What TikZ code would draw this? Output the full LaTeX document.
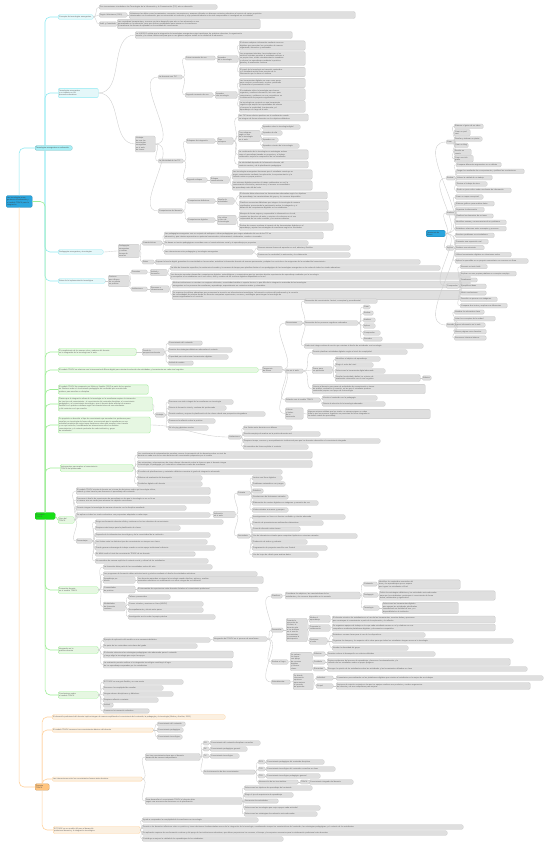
\documentclass[tikz,border=0pt]{standalone}
\usepackage{fontspec}
\setmainfont{Liberation Sans}
\usetikzlibrary{positioning}
\definecolor{Raiz}{HTML}{2AA5DE}
\definecolor{Caja}{HTML}{DFDFDF}
\definecolor{Borde}{HTML}{C6C6C6}
\definecolor{Linea}{HTML}{CDCDCD}
\definecolor{Cian}{HTML}{8FEAF2}
\definecolor{CianVivo}{HTML}{A8EEF5}
\definecolor{CianClaro}{HTML}{E4F7F9}
\definecolor{Verde}{HTML}{9EEE96}
\definecolor{VerdeVivo}{HTML}{16E016}
\definecolor{VerdeClaro}{HTML}{E6F7E2}
\definecolor{Naranja}{HTML}{FFD19C}
\definecolor{NaranjaVivo}{HTML}{FFC47E}
\definecolor{NaranjaClaro}{HTML}{FBF0E1}
\definecolor{Tinta}{HTML}{626262}

\tikzset{
  hoja/.style={draw=Borde, fill=Caja, rounded corners=1.2pt, line width=0.3pt,
    inner xsep=1pt, inner ysep=1.4pt, anchor=west, align=left, text=Tinta,
    font=\fontsize{1.9}{2.35}\selectfont},
  raiz/.style={hoja, draw=Raiz!80!black, fill=Raiz, text=black!75},
  temaC/.style={hoja, draw=Cian, fill=CianClaro},
  temaV/.style={hoja, draw=Verde, fill=VerdeClaro},
  temaN/.style={hoja, draw=Naranja, fill=NaranjaClaro},
  enlace/.style={draw=Linea, line width=0.35pt},
  ramaC/.style={draw=Cian, line width=0.6pt, rounded corners=5pt},
  ramaV/.style={draw=Verde, line width=0.6pt, rounded corners=5pt},
  ramaN/.style={draw=Naranja, line width=0.6pt, rounded corners=5pt},
}

% hijos de un nodo: nombre/y/ancho/texto, todos en la misma x
\newcommand{\hijos}[3]{%
  \foreach \n/\y/\w/\txt in {#3}{%
    \node[hoja, text width=\w pt] (\n) at (#2,\y) {\txt};
    \draw[enlace] (#1.east) to[out=0,in=180] (\n.west);
  }%
}

\begin{document}
\begin{tikzpicture}[x=1pt,y=-1pt]
  \fill[white] (0,0) rectangle (550,848);
  \useasboundingbox (0,0) rectangle (550,848);

  % raiz
  \node[raiz, text width=24pt] (raiz) at (6,201.5)
    {Las tecnologías emergentes en la educación y el modelo TPACK para la integración};

  % ---------- rama cian ----------
  \node[hoja, draw=Cian!80!black, fill=CianVivo, text width=35pt, text=black!70] (cian) at (35,148) {Tecnologías emergentes en educación};
  \draw[ramaC] (raiz.north) |- (cian.west);
  \node[temaC, text width=33pt] (c1) at (58,17) {Concepto de tecnologías emergentes};
  \node[temaC, text width=38pt] (c2) at (58,93) {Tecnologías emergentes\\y su impacto en los\\procesos educativos};
  \node[temaC, text width=43pt] (c3) at (58,252) {Pedagogías emergentes y tecnologías};
  \node[temaC, text width=45pt] (c4) at (58,281) {Retos de la implementación tecnológica};
  \foreach \c in {c1,c2}
    \draw[ramaC] ([xshift=10pt]cian.north west) |- (\c.west);
  \foreach \c in {c3,c4}
    \draw[ramaC] ([xshift=10pt]cian.south west) |- (\c.west);

  \hijos{c1}{99}{
    c1a/7/116/{Son innovaciones vinculadas a las Tecnologías de la Información y la Comunicación (TIC) aún en desarrollo},
    c1b/15/26/{Según Veletsianos (2010)},
    c1c/24/16/{Adell y Castañeda}}
  \hijos{c1b}{129}{
    c1d/15/224/{Veletsianos las define como herramientas, conceptos, innovaciones y avances utilizados en diversos contextos educativos al servicio de varios propósitos\\relacionados con la educación, que se encuentran en evolución y cuyo potencial todavía no ha sido comprendido ni investigado en su totalidad}}
  \hijos{c1c}{117}{
    c1e/24/141/{Las consideran herramientas y recursos en pleno desarrollo que aún no han alcanzado un uso\\generalizado en la educación, pero que ofrecen posibilidades para innovar en la enseñanza\\y transformar las formas de aprender en la sociedad del conocimiento}}

  \hijos{c2}{135}{
    c2b/35/155/{La UNESCO señala que la integración de tecnologías emergentes exige transformar las prácticas docentes, la organización\\escolar y la cultura institucional para que su uso genere mejoras reales en la calidad de la educación},
    v/144/18/{Ventajas\\de usar las\\tecnologías\\emergentes\\en el aula\\de clases}}
  \hijos{v}{158}{
    va/77/22/{La docencia con TIC},
    vb/161/23/{La efectividad de las TIC},
    vc/211/23/{Competencias del docente}}
  \hijos{va}{185}{
    va1/58/28/{Primer momento de uso},
    va2/95/26/{Segundo momento de uso}}
  \hijos{va1}{217}{va1a/59/19/{Aprender\\de la tecnología}}
  \hijos{va1a}{239}{
    va1b/45.5/64/{El alumno adquiere información mediante recursos\\digitales que presentan los contenidos de manera\\organizada, interactiva y multimedia},
    va1c/58.5/64/{Los programas tutoriales, las simulaciones y los\\entornos virtuales permiten al estudiante avanzar a\\su propio ritmo, recibir retroalimentación inmediata\\y reforzar los aprendizajes mediante la práctica\\guiada y la evaluación continua},
    va1d/72/64/{El papel de la tecnología es transmitir contenidos\\y el estudiante actúa como receptor de la\\información que le ofrece el sistema}}
  \hijos{va2}{215}{va2a/95/20/{Aprender\\con tecnología}}
  \hijos{va2a}{239}{
    va2b/83/64/{Las herramientas digitales se usan como apoyo\\para construir conocimiento, resolver problemas\\y desarrollar el pensamiento crítico},
    va2c/94.5/64/{El estudiante utiliza la tecnología para buscar,\\organizar y analizar información, así como para\\comunicarse y colaborar con sus compañeros en\\la elaboración de proyectos significativos},
    va2d/106.5/64/{La tecnología se convierte en una herramienta\\cognitiva que amplía las capacidades del alumno\\y favorece la creatividad, la autonomía y el\\aprendizaje a lo largo de la vida}}
  \hijos{vb}{186}{
    vb1/141/27/{Enfoques de integración},
    vb2/180/19/{Segundo enfoque}}
  \hijos{vb1}{217}{vb1a/141/14/{Tres\\enfoques}}
  \hijos{vb1a}{238}{
    vb1b/117.5/68/{Las TIC tienen efectos positivos en el rendimiento cuando\\se integran de forma coherente con los objetivos didácticos},
    vb1c/136/20/{Tres enfoques\\según el uso\\de la tecnología\\en el aula},
    vb1d/154.5/68/{La combinación de la tecnología con estrategias activas\\como el aprendizaje basado en proyectos y el trabajo\\colaborativo mejora la comprensión de los estudiantes},
    vb1e/164.5/68/{La efectividad depende de la formación docente, del\\contexto escolar y de la planificación pedagógica}}
  \hijos{vb1c}{262}{
    vb1f/127/36/{Aprender sobre la tecnología digital},
    vb1g/133/18/{Aprender de ella},
    vb1h/140/14/{Aprender con},
    vb1i/146/35/{Aprender a través de la tecnología}}
  \hijos{vb2}{210}{vb2a/180/17/{Enfoque\\constructivista}}
  \hijos{vb2a}{232}{
    vb2b/174.5/78/{Las tecnologías emergentes favorecen que el estudiante construya su\\propio conocimiento mediante la exploración, la experimentación y la\\reflexión sobre su propia práctica},
    vb2c/185.5/78/{Los entornos digitales permiten el trabajo colaborativo en red, la\\comunicación sincrónica y asincrónica y el acceso a comunidades\\de aprendizaje más allá del aula}}
  \hijos{vc}{187}{
    vc1/201/26/{Competencias didácticas},
    vc2/220/26/{Competencias digitales}}
  \hijos{vc1}{217}{vc1a/201/15/{Diseño de\\actividades}}
  \hijos{vc1a}{239}{
    vc1b/195.5/86/{El docente debe seleccionar las herramientas adecuadas según los objetivos\\de aprendizaje, las características del grupo y los recursos disponibles},
    vc1c/205.5/87/{Planificar secuencias didácticas que integren la tecnología de manera\\significativa, promoviendo la participación activa, la indagación y el\\desarrollo de competencias digitales en los estudiantes}}
  \hijos{vc2}{217}{vc2a/220/17/{Uso crítico\\y ético de\\la tecnología}}
  \hijos{vc2a}{239}{
    vc2b/216.5/87/{Manejar de forma segura y responsable la información en la red,\\respetar los derechos de autor y orientar a los alumnos en el uso\\responsable de las redes sociales y los recursos abiertos},
    vc2c/227/92/{Evaluar de manera continua el impacto de las herramientas digitales en el\\aprendizaje y ajustar las estrategias de enseñanza según los resultados}}

  \hijos{c3}{118}{c3a/251/19/{Pedagogías\\emergentes\\y nuevas\\formas de\\enseñar}}
  \hijos{c3a}{142}{
    c3b/243/18/{Características},
    c3c/262/10/{Retos}}
  \hijos{c3b}{164}{
    c3d/235.5/157/{Las pedagogías emergentes son un conjunto de enfoques e ideas pedagógicas que surgen alrededor del uso de las TIC en\\educación y que intentan aprovechar su potencial comunicativo, informacional, colaborativo, creativo e innovador},
    c3e/243/142/{Se basan en teorías pedagógicas conocidas como el constructivismo social y el aprendizaje por proyectos},
    c3f/252/87/{Las interacciones entre pedagogías y tecnologías emergentes}}
  \hijos{c3f}{257}{
    c3g/248/91/{Generan nuevas formas de aprender en red, abiertas y flexibles},
    c3h/255/91/{Promueven la creatividad, la autonomía y la colaboración}}
  \hijos{c3c}{155}{
    c3i/262/263/{Superar la brecha digital, garantizar la conectividad en las escuelas, actualizar la formación docente de manera permanente y adaptar los currículos a las exigencias de la sociedad del conocimiento}}

  \hijos{c4}{108}{c4a/281/19/{Factores\\que influyen\\en su puesta\\en práctica}}
  \hijos{c4a}{131}{
    c4b/272/14/{Docentes},
    c4c/289/14/{Instituciones}}
  \hijos{c4b}{150}{c4d/272.5/15/{Actitud y\\formación}}
  \hijos{c4d}{170}{
    c4e/268/268/{La falta de formación específica, la resistencia al cambio y la escasez de tiempo para planificar limitan el uso pedagógico de las tecnologías emergentes en las aulas de todos los niveles educativos},
    c4f/276/298/{Los docentes necesitan desarrollar competencias digitales, metodológicas y comunicativas que les permitan diseñar experiencias de aprendizaje mediadas por la tecnología\\y acompañar a los estudiantes en el uso crítico, ético y creativo de los recursos digitales disponibles en la red}}
  \hijos{c4c}{150}{c4g/289/17/{Recursos e\\infraestructura}}
  \hijos{c4g}{172}{
    c4h/284.5/296/{Muchas instituciones no cuentan con equipos suficientes, conectividad estable ni soporte técnico, lo que dificulta la integración sostenida de las tecnologías\\emergentes en los procesos de enseñanza y aprendizaje, especialmente en contextos rurales y vulnerables},
    c4i/295/286/{Se requiere de políticas educativas que promuevan la inversión en infraestructura tecnológica, la formación continua del profesorado y la creación\\de comunidades de práctica donde los docentes compartan experiencias, recursos y estrategias para integrar la tecnología de\\manera significativa en el currículo}}

  % ---------- tema flotante: taxonomia de Bloom ----------
  \node[raiz, text width=17pt] (bloom) at (426,233.5) {Taxonomía de Bloom};
  \hijos{bloom}{446}{
    bq1/142/6/{Crear},
    bq2/178/7/{Evaluar},
    bq3/213/7/{Analizar},
    bq4/248/6/{Aplicar},
    bq5/286/11/{Comprender},
    bq6/325/8/{Recordar}}
  \hijos{bq1}{454}{
    bq1a/126.3/27/{Elaborar el guion de un video},
    bq1b/132.7/14/{Crear un podcast},
    bq1c/139/26/{Diseñar y elaborar un póster},
    bq1d/145.3/12/{Crear un blog},
    bq1e/152.3/15/{Escribir un cuento},
    bq1f/158.7/17/{Crear una infografía}}
  \hijos{bq2}{456}{
    bq2a/164.7/43/{Comparar diferentes argumentos en un debate},
    bq2b/171.3/66/{Juzgar los resultados de un experimento y justificar las conclusiones},
    bq2c/177.7/34/{Valorar la calidad de un trabajo},
    bq2d/184/29/{Revisar el trabajo de otros},
    bq2e/190.3/53/{Emitir un juicio crítico sobre una fuente de información}}
  \hijos{bq3}{455}{
    bq3a/197/26/{Crear un mapa conceptual},
    bq3b/203.7/37/{Elaborar gráficos para analizar datos},
    bq3c/209.7/27/{Organizar la información},
    bq3d/216/36/{Clasificar los elementos de un tema},
    bq3e/222.3/49/{Identificar causas y consecuencias de un problema},
    bq3f/228.7/49/{Establecer relaciones entre conceptos y procesos}}
  \hijos{bq4}{455}{
    bq4a/235.3/37/{Resolver problemas con simuladores},
    bq4b/241.7/31/{Presentar una exposición oral},
    bq4c/247.7/27/{Realizar una entrevista},
    bq4d/254.7/54/{Utilizar herramientas digitales en situaciones reales},
    bq4e/261/71/{Aplicar lo aprendido en un proyecto comunitario con recursos en línea}}
  \hijos{bq5}{460}{
    bq5a/266.7/25/{Resumir un texto leído},
    bq5b/273.7/54/{Explicar con sus propias palabras un concepto complejo},
    bq5c/280/15/{Parafrasear},
    bq5d/286.3/24/{Ejemplificar ideas},
    bq5e/293/24/{Inferir conclusiones},
    bq5f/299.3/35/{Describir un proceso con imágenes},
    bq5g/305.7/45/{Comparar dos textos y explicar sus diferencias}}
  \hijos{bq6}{454}{
    bq6a/312/28/{Nombrar los elementos clave},
    bq6b/318.7/39/{Listar los conceptos de la unidad},
    bq6c/325/29/{Buscar información en la web},
    bq6d/331.7/30/{Marcar páginas como favoritos},
    bq6e/338/30/{Reconocer términos básicos}}

  % ---------- rama verde ----------
  \node[hoja, draw=VerdeVivo!80!black, fill=VerdeVivo, text width=18pt, text=black!70] (verde) at (35,516) {El modelo\\TPACK};
  \draw[ramaV] (raiz.east) -| (verde.north);
  \node[temaV, text width=76pt] (g1) at (58,352) {El cumplimiento de los nuevos roles y saberes del docente\\en la integración de la tecnología en el aula};
  \node[temaV, text width=198pt] (g2) at (58,370) {El modelo TPACK se relaciona con la taxonomía de Bloom digital para orientar la selección de actividades y herramientas en cada nivel cognitivo};
  \node[temaV, text width=88pt] (g3a) at (58,389.5) {El modelo TPACK fue propuesto por Mishra y Koehler (2006) a partir de los aportes\\de Shulman sobre el conocimiento pedagógico del contenido que necesita todo\\profesor para enseñar su disciplina};
  \node[temaV, text width=92pt] (g3b) at (58,404) {Plantea que la integración eficaz de la tecnología en la enseñanza requiere la interacción\\de tres tipos de conocimiento: el conocimiento del contenido disciplinar, el conocimiento\\pedagógico y el conocimiento tecnológico, que el docente debe articular de manera\\flexible en su práctica cotidiana según las características de sus estudiantes\\y del contexto en el que enseña};
  \node[temaV, text width=90pt] (g3c) at (58,425) {Su propósito es describir el tipo de conocimiento que necesitan los profesores para\\enseñar con tecnología de forma eficaz, reconociendo que la enseñanza es una\\actividad compleja que exige tomar decisiones sobre qué enseñar, cómo hacerlo\\y con qué recursos, considerando las interacciones entre los distintos\\conocimientos y el contexto particular de cada institución y grupo\\de estudiantes};
  \node[temaV, text width=71pt] (g4) at (60,468) {Instrumentos para evaluar el conocimiento\\TPACK del profesorado};
  \node[temaV, text width=14pt] (g5) at (58,520) {Usos del TPACK};
  \node[temaV, text width=38pt] (g6) at (58,590) {Formación docente\\en el modelo TPACK};
  \node[temaV, text width=38pt] (g7) at (58,650) {Integración en la\\práctica docente};
  \node[temaV, text width=38pt] (g8) at (58,695) {Conclusiones sobre\\el modelo TPACK};
  \foreach \g in {g1,g2,g3a,g3b,g3c,g4}
    \draw[ramaV] (verde.north) |- (\g.west);
  \draw[ramaV] (verde.east) -- (g5.west);
  \foreach \g in {g6,g7,g8}
    \draw[ramaV] (verde.south) |- (\g.west);

  \hijos{g1}{142}{g1a/352/20/{Desde la\\perspectiva docente}}
  \hijos{g1a}{168}{
    g1b/343/32/{Conocimiento del contenido},
    g1c/350/62/{Dominio de estrategias didácticas adecuadas al contexto},
    g1d/357/58/{Capacidad para seleccionar herramientas digitales},
    g1e/363/23/{Actitud de cambio}}
  \hijos{g2}{262}{t/369.5/18/{Taxonomía\\de Bloom}}
  \hijos{t}{285}{
    t1/323/15/{Dimensiones},
    t2/371/16/{Uso en el aula},
    t3/400/33/{Relación con el modelo TPACK},
    t4/413.5/16/{Críticas\\y límites\\de la\\taxonomía}}
  \hijos{t1}{304}{
    t1a/301/71/{Dimensión del conocimiento: factual, conceptual y procedimental},
    t1b/323/52/{Dimensión de los procesos cognitivos ordenados},
    t1c/346/117/{Cada nivel integra verbos de acción que orientan el diseño de actividades con tecnología}}
  \hijos{t1b}{363}{
    t1d/307/5/{Crear},
    t1e/313/8/{Evaluar},
    t1f/320/10/{Analizar},
    t1g/326/10/{Aplicar},
    t1h/333/15/{Comprender},
    t1i/339/17/{Recordar}}
  \hijos{t2}{312}{
    t2a/352/93/{Permite planificar actividades digitales según el nivel de complejidad},
    t2b/370/18/{Pasos para\\su aplicación},
    t2c/389/111/{Orienta al docente para pasar de actividades de memorización a tareas\\de análisis, evaluación y creación, en las que el estudiante produce\\contenidos propios con apoyo de la tecnología}}
  \hijos{t2b}{335}{
    t2d/359/43/{Identificar el objetivo de aprendizaje},
    t2e/365/36/{Elegir el verbo del nivel},
    t2f/371/48/{Seleccionar la herramienta digital adecuada},
    t2g/378/83/{Diseñar la actividad y definir los criterios de\\evaluación coherentes con el nivel cognitivo}}
  \hijos{t2g}{422}{t2h/378/7/{Rúbrica}}
  \hijos{t3}{322}{
    t3a/398/53/{Vincula el contenido con la pedagogía},
    t3b/404/61/{Orienta la elección de la tecnología adecuada}}
  \hijos{t4}{307}{
    t4a/414/121/{Algunos autores señalan que los niveles no siempre siguen un orden\\lineal y que los procesos cognitivos se presentan de forma integrada en\\las tareas reales de aprendizaje}}

  \hijos{g3b}{155}{g3d/415/8/{Ventajas}}
  \hijos{g3d}{168}{
    g3f/402/63/{Favorece una visión integral de la enseñanza con tecnología},
    g3g/408/56/{Orienta la formación inicial y continua del profesorado},
    g3h/414/95/{Permite analizar y mejorar la planificación de las clases desde una perspectiva integradora},
    g3i/421/45/{Promueve la reflexión sobre la práctica},
    g3j/428/38/{Se adapta a distintos niveles}}
  \hijos{g3c}{228}{g3e/437/11/{Limitaciones}}
  \hijos{g3e}{243}{
    g3k/428/47/{Sus límites entre dominios son difusos},
    g3l/434/75/{Resulta complejo de evaluar en la práctica docente real},
    g3m/441/135/{Requiere tiempo, recursos y acompañamiento institucional para que los docentes desarrollen el conocimiento integrado},
    g3n/447/63/{No considera de forma explícita el contexto}}

  \hijos{g4}{137}{
    g4a/455/173/{Los cuestionarios de autoevaluación permiten conocer la percepción de los docentes sobre su nivel de\\dominio en cada uno de los siete dominios del conocimiento propuestos por el modelo},
    g4b/464/173/{Las entrevistas y observaciones de clase ofrecen información sobre la forma en que el docente integra\\la tecnología, la pedagogía y el contenido en situaciones reales de enseñanza},
    g4c/472/143/{El análisis de planificaciones y materiales didácticos muestra el grado de integración alcanzado},
    g4d/478/63/{Rúbricas de evaluación del desempeño},
    g4e/484/63/{Portafolios digitales del docente}}

  \hijos{g5}{76}{
    g5a/491/132/{El modelo TPACK orienta al docente en la toma de decisiones sobre qué tecnología utilizar,\\cuándo y cómo hacerlo para favorecer el aprendizaje del contenido},
    g5b/500/132/{Favorece el diseño de experiencias de aprendizaje en las que la tecnología no es un fin en\\sí misma, sino un medio para alcanzar los objetivos curriculares},
    g5c/508/108/{Permite integrar la tecnología de manera coherente con la disciplina enseñada},
    g5d/515/132/{Se aplica en todos los niveles educativos con propuestas adaptadas a cada etapa},
    ds/541/14/{Desventajas}}
  \hijos{g5d}{213}{ap/514.5/20/{Aplicación\\en el aula}}
  \hijos{ap}{237}{
    ap1/493/11/{Primaria},
    ap2/536/11/{Secundaria}}
  \hijos{ap1}{252}{
    ap1a/478/28/{Lectura con libros digitales},
    ap1b/484/31/{Problemas matemáticos con juegos},
    ap1c/491/9/{Robótica},
    ap1d/497/34/{Simulaciones de fenómenos naturales},
    ap1e/503/64/{Elaboración de cuentos digitales con imágenes y narración de voz},
    ap1f/510/34/{Visitas virtuales a museos y parques}}
  \hijos{ap2}{252}{
    ap2a/517/91/{Investigaciones en línea con fuentes confiables y citación adecuada},
    ap2b/523/69/{Creación de presentaciones multimedia colaborativas},
    ap2c/529/46/{Foros de discusión sobre temas},
    ap2d/536/103/{Uso de laboratorios virtuales para comprobar hipótesis en ciencias naturales},
    ap2e/542/53/{Producción de videos y podcasts},
    ap2f/548/73/{Programación de proyectos sencillos con Scratch},
    ap2g/555/64/{Uso de hojas de cálculo para analizar datos}}
  \hijos{ds}{95}{
    ds1/522/126/{Exige una formación docente sólida y continua en los tres dominios de conocimiento},
    ds2/528/83/{Requiere más tiempo para la planificación de clases},
    ds3/535/113/{Depende de la infraestructura tecnológica y de la conectividad de la institución},
    ds4/542/110/{Los límites entre los distintos tipos de conocimiento no siempre son claros},
    ds5/548/118/{Puede generar sobrecarga de trabajo cuando no existe apoyo institucional suficiente},
    ds6/554/98/{Es difícil medir el nivel de conocimiento TPACK de un docente},
    ds7/561/111/{No considera de manera explícita el contexto social y cultural de los estudiantes}}

  \hijos{g6}{103}{
    g6a/567/107/{La formación debe partir de las necesidades reales del aula},
    g6b/574/152/{Los programas de formación deben articular teoría y práctica mediante el diseño de actividades auténticas},
    g6c/580/30/{Aprendizaje por\\diseño},
    g6d/589.5/30/{Comunidades\\de práctica},
    g6e/606.5/20/{Modalidades\\de formación\\continua}}
  \hijos{g6c}{137}{
    g6f/580/124/{Los docentes aprenden a integrar la tecnología cuando diseñan, aplican y evalúan\\materiales educativos en colaboración con otros colegas de su institución}}
  \hijos{g6d}{137}{
    g6g/589.5/119/{El intercambio de experiencias entre docentes fortalece el conocimiento profesional}}
  \hijos{g6e}{128}{
    g6h/597/40/{Talleres presenciales},
    g6i/604/73/{Cursos virtuales y masivos en línea (MOOC)},
    g6j/610/73/{Acompañamiento y tutoría entre pares},
    g6k/617/85/{Investigación acción sobre la propia práctica}}

  \hijos{g7}{103}{
    g7a/640/105/{Ejemplo de aplicación del modelo en una secuencia didáctica},
    g7b/646/92/{Se parte de los contenidos curriculares del grado},
    g7c/654.5/128/{El docente selecciona las estrategias pedagógicas más adecuadas para el contenido\\y luego elige la tecnología que mejor las apoya},
    g7d/664.5/127/{La evaluación permite verificar si la integración tecnológica contribuyó al logro\\de los aprendizajes esperados por los estudiantes}}
  \hijos{g7a}{213}{in/639/52/{Integración del TPACK en el proceso de enseñanza}}
  \hijos{in}{271}{
    p1/596/9/{Planificar},
    p2/630/10/{Desarrollar},
    p3/662/15/{Evaluar el logro},
    p4/682/17/{Retroalimentar}}
  \hijos{p1}{285}{
    p1a/595.5/73/{Considerar los objetivos, las características de los\\estudiantes y los recursos disponibles en la escuela}}
  \hijos{p1a}{363}{
    p1b/584/12/{Contenido},
    p1c/595/13/{Pedagogía},
    p1d/608/14/{Tecnología}}
  \hijos{p1b}{378}{
    p1e/584.5/80/{Identificar los contenidos esenciales del\\área y los aprendizajes que se espera\\que logren los estudiantes al final}}
  \hijos{p1c}{379}{
    p1f/595.5/114/{Definir las estrategias didácticas y las actividades más adecuadas\\para que los estudiantes construyan el conocimiento de forma\\activa, colaborativa y significativa}}
  \hijos{p1d}{382}{
    p1g/608/74/{Seleccionar las herramientas digitales\\que apoyan las actividades planificadas\\considerando su facilidad de uso y su\\disponibilidad en la institución}}
  \hijos{p2}{286}{
    p2a/630/19/{Durante la\\ejecución de\\la clase, el\\docente guía\\a los alumnos\\en el uso de\\herramientas\\y promueve la\\participación}}
  \hijos{p2a}{309}{
    p2b/619/19/{Mediar el\\aprendizaje},
    p2c/628/19/{Fomentar la\\colaboración},
    p2d/641/16/{Gestionar\\el aula}}
  \hijos{p2b}{332}{
    p2e/619.5/161/{El docente orienta a los estudiantes en el uso de las herramientas, resuelve dudas y promueve\\que construyan el conocimiento a partir de la exploración y la reflexión}}
  \hijos{p2c}{332}{
    p2f/627.5/161/{Se organizan equipos de trabajo en los que cada estudiante asume un rol y colabora con sus\\compañeros mediante plataformas digitales y documentos compartidos}}
  \hijos{p2d}{332}{
    p2g/635/91/{Establecer normas claras para el uso de los dispositivos},
    p2h/641/179/{Organizar los tiempos y los espacios de la clase para que todos los estudiantes tengan acceso a la tecnología},
    p2i/648/74/{Atender la diversidad del grupo}}
  \hijos{p3}{290}{
    p3a/661.5/20/{Se valoran\\los logros\\con apoyo\\de recursos\\digitales\\y criterios\\claros}}
  \hijos{p3a}{313}{
    p3b/654/10/{Rúbricas},
    p3c/662/10/{Portafolio},
    p3d/669/10/{Encuestas}}
  \hijos{p3b}{327}{p3e/654/106/{Permiten valorar el desempeño con criterios definidos}}
  \hijos{p3c}{327}{p3f/662/181/{Reúnen evidencias del proceso de aprendizaje y favorecen la autoevaluación y la\\reflexión de los estudiantes sobre su propio progreso}}
  \hijos{p3d}{327}{p3g/669/198/{Recogen la opinión de los estudiantes sobre las actividades y las herramientas utilizadas en clase}}
  \hijos{p4}{293}{
    p4a/681.5/18/{Se brinda\\información\\oportuna\\para mejorar\\el proceso\\de aprender}}
  \hijos{p4a}{316}{
    p4b/678/15/{Individual},
    p4c/686/15/{Grupal}}
  \hijos{p4b}{336}{p4d/678/205/{Comentarios personalizados en las plataformas digitales que orientan al estudiante en la mejora de sus trabajos}}
  \hijos{p4c}{336}{p4e/686/192/{Sesiones de revisión conjunta en las que los equipos analizan sus productos y reciben sugerencias\\del docente y de sus compañeros para mejorar}}

  \hijos{g8}{103}{
    g8a/682/78/{El TPACK es una guía flexible y no una receta},
    g8b/688/58/{Reconoce la complejidad de enseñar},
    g8c/694/68/{Integra saberes disciplinares y didácticos},
    g8d/700/53/{Requiere reflexión constante},
    g8e/705/8/{Actitud},
    g8f/711/44/{Promueve la innovación educativa}}

  % ---------- rama naranja ----------
  \node[hoja, draw=NaranjaVivo!80!black, fill=NaranjaVivo, text width=12pt, text=black!70] (naranja) at (35,787) {Docente TPACK};
  \draw[ramaN] (raiz.south) |- (naranja.west);
  \node[temaN, text width=171pt] (o1) at (52,717) {El desarrollo profesional del docente implica integrar de manera equilibrada el conocimiento del contenido, la pedagogía y la tecnología (Mishra y Koehler, 2006)};
  \node[temaN, text width=99pt] (o2) at (52,730) {El modelo TPACK reconoce tres conocimientos básicos del docente};
  \node[temaN, text width=88pt] (o3) at (52,779) {Las interacciones entre los conocimientos forman siete dominios};
  \node[temaN, text width=85pt] (o4) at (53,830) {El TPACK es un modelo útil para el desarrollo\\profesional docente y la integración tecnológica};
  \foreach \o in {o1,o2,o3}
    \draw[ramaN] (naranja.north) |- (\o.west);
  \draw[ramaN] (naranja.south) |- (o4.west);

  \hijos{o2}{157}{
    o2a/724/26/{Conocimiento del contenido},
    o2b/730/24/{Conocimiento pedagógico},
    o2c/737/23/{Conocimiento tecnológico}}
  \hijos{o3}{145}{
    o3a/757/53/{Los tres conocimientos base que el docente\\desarrolla de manera independiente},
    o3b/801/95/{Para desarrollar el conocimiento TPACK el docente debe\\seguir una secuencia de decisiones en la planificación}}
  \hijos{o3a}{203}{
    k1/743/4/{CK},
    k2/749/4/{PK},
    k3/756/4/{TK},
    o3c/772/50/{De la intersección de dos conocimientos}}
  \hijos{k1}{210}{k1a/743/48/{Conocimiento del contenido disciplinar a enseñar}}
  \hijos{k2}{210}{k2a/749/35/{Conocimiento pedagógico general}}
  \hijos{k3}{210}{k3a/756/27/{Conocimiento tecnológico}}
  \hijos{o3c}{258}{
    k4/762/5/{PCK},
    k5/769/5/{TCK},
    k6/776/5/{TPK},
    o3d/782/38/{Intersección de los tres ámbitos}}
  \hijos{k4}{266}{k4a/762/56/{Conocimiento pedagógico del contenido disciplinar}}
  \hijos{k5}{266}{k5a/769/67/{Conocimiento tecnológico del contenido a enseñar en clase}}
  \hijos{k6}{266}{k6a/776/52/{Conocimiento tecnológico pedagógico general}}
  \hijos{o3d}{300}{k7/782/7/{TPACK}}
  \hijos{k7}{309}{k7a/782/42/{Conocimiento integrado del docente}}
  \hijos{o3b}{244}{
    o3e/788/66/{Seleccionar los objetivos de aprendizaje del contenido},
    o3f/795/47/{Elegir el tipo de experiencia de aprendizaje},
    o3g/801/32/{Secuenciar las actividades},
    o3h/808/74/{Seleccionar las tecnologías que mejor apoyan cada actividad},
    o3i/814/71/{Seleccionar las estrategias de evaluación más adecuadas}}
  \hijos{o4}{142}{
    o4a/820/114/{Ayuda a comprender la complejidad de la enseñanza con tecnología},
    o4b/827/319/{Permite a los docentes reflexionar sobre su práctica y tomar decisiones fundamentadas acerca de la integración de la tecnología, considerando siempre las características del contenido, las estrategias pedagógicas y el contexto de los estudiantes},
    o4c/833/303/{Su aplicación requiere de una formación continua y del apoyo de las instituciones educativas, que deben proporcionar los recursos, el tiempo y los espacios necesarios para la colaboración profesional entre docentes},
    o4d/839/139/{Contribuye a mejorar la calidad de los aprendizajes de los estudiantes}}
\end{tikzpicture}
\end{document}
